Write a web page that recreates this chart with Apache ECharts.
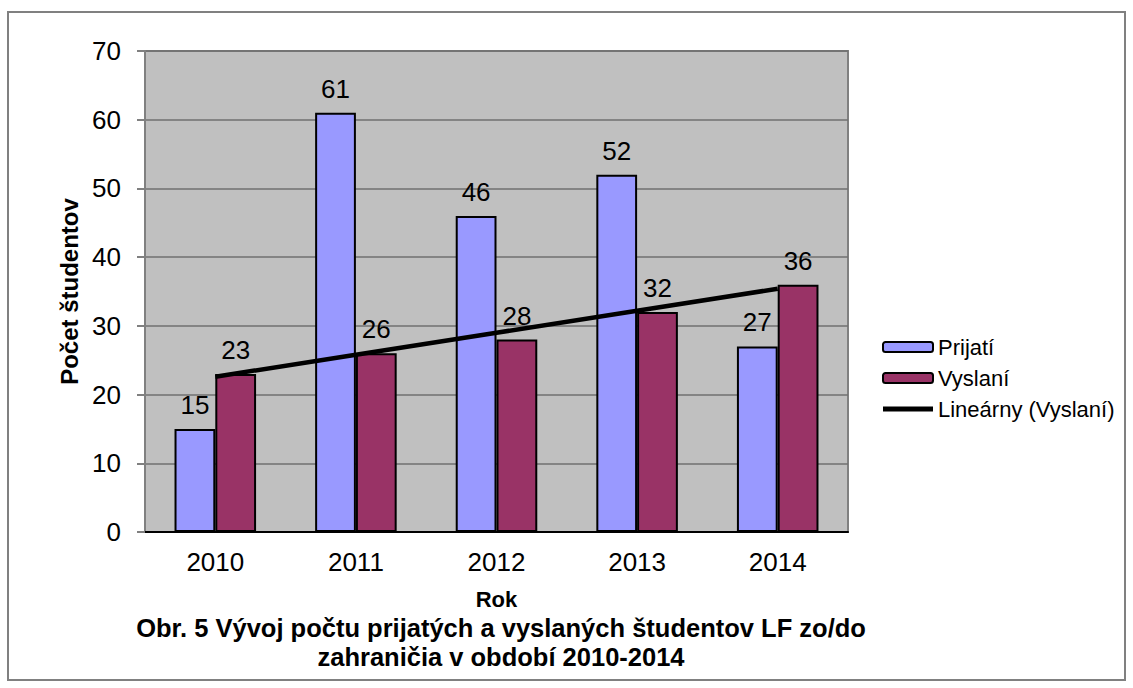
<!DOCTYPE html>
<html>
<head>
<meta charset="utf-8">
<script src="https://cdn.jsdelivr.net/npm/echarts@6/dist/echarts.min.js"></script>
<style>
html,body{margin:0;padding:0;background:#fff;}
#c{width:1133px;height:688px;}
</style>
</head>
<body>
<div id="c"></div>
<script>
const categories = ['2010', '2011', '2012', '2013', '2014'];
const prijati = [15, 61, 46, 52, 27];
const vyslani = [23, 26, 28, 32, 36];
const trendVyslani = [22.6, 25.8, 29.0, 32.2, 35.4];
const yTicks = [0, 10, 20, 30, 40, 50, 60, 70];
const seriesNames = ['Prijatí', 'Vyslaní', 'Lineárny (Vyslaní)'];
const captionLines = ['Obr. 5 Vývoj počtu prijatých a vyslaných študentov LF zo/do', 'zahraničia v období 2010-2014'];

const FONT = 'Liberation Sans, Arial, sans-serif';
const chart = echarts.init(document.getElementById('c'), null, {renderer: 'svg'});

const labelStyle = {show: true, position: 'top', distance: 11, fontSize: 26, color: '#000', fontFamily: FONT};

chart.setOption({
  animation: false,
  backgroundColor: '#fff',
  textStyle: {fontFamily: FONT},
  grid: {left: 145, top: 51, width: 703, height: 481, show: true, backgroundColor: '#c0c0c0', borderColor: '#808080', borderWidth: 2},
  legend: {
    orient: 'vertical', left: 877, top: 331, itemWidth: 50, itemHeight: 10, itemGap: 9,
    textStyle: {fontSize: 22, color: '#000', fontFamily: FONT},
    data: [
      {name: seriesNames[0]},
      {name: seriesNames[1]},
      {name: seriesNames[2], icon: 'path://M0,0 L50,0 L50,5 L0,5 Z', itemStyle: {color: '#000', borderWidth: 0}}
    ]
  },
  xAxis: {
    type: 'category', data: categories,
    axisLine: {lineStyle: {color: '#000', width: 2}},
    axisTick: {show: false},
    axisLabel: {fontSize: 26, color: '#000', margin: 17, fontFamily: FONT},
    name: 'Rok', nameLocation: 'middle', nameGap: 56,
    nameTextStyle: {fontSize: 22, fontWeight: 'bold', color: '#000', fontFamily: FONT}
  },
  yAxis: {
    type: 'value', min: 0, max: 70, interval: 10,
    axisLine: {show: true, lineStyle: {color: '#808080', width: 2}},
    axisTick: {show: true, length: 8, lineStyle: {color: '#808080', width: 2}},
    axisLabel: {fontSize: 26, color: '#000', margin: 24, fontFamily: FONT,
      formatter: v => yTicks.includes(v) ? String(v) : ''},
    splitLine: {lineStyle: {color: '#707070', width: 1.5}},
    name: 'Počet študentov', nameLocation: 'middle', nameGap: 62, nameRotate: 90,
    nameTextStyle: {fontSize: 24, fontWeight: 'bold', color: '#000', fontFamily: FONT}
  },
  series: [
    {name: seriesNames[0], type: 'bar', data: prijati, barGap: '0%', barCategoryGap: '42%',
      itemStyle: {color: '#9999ff', borderColor: '#000', borderWidth: 2}, label: labelStyle},
    {name: seriesNames[1], type: 'bar', data: vyslani,
      itemStyle: {color: '#993366', borderColor: '#000', borderWidth: 2}, label: labelStyle},
    {name: seriesNames[2], type: 'line', data: trendVyslani, symbol: 'none', z: 5,
      lineStyle: {color: '#000', width: 4.5}, itemStyle: {color: '#000'}}
  ],
  graphic: [
    {type: 'rect', shape: {x: 8, y: 12, width: 1117, height: 668}, style: {fill: 'none', stroke: '#808080', lineWidth: 2}, silent: true},
    {type: 'text', x: 501, y: 628, style: {text: captionLines[0], textAlign: 'center', textVerticalAlign: 'middle', font: 'bold 25.5px ' + FONT, fill: '#000'}},
    {type: 'text', x: 501, y: 657, style: {text: captionLines[1], textAlign: 'center', textVerticalAlign: 'middle', font: 'bold 25.5px ' + FONT, fill: '#000'}}
  ]
});
</script>
</body>
</html>
